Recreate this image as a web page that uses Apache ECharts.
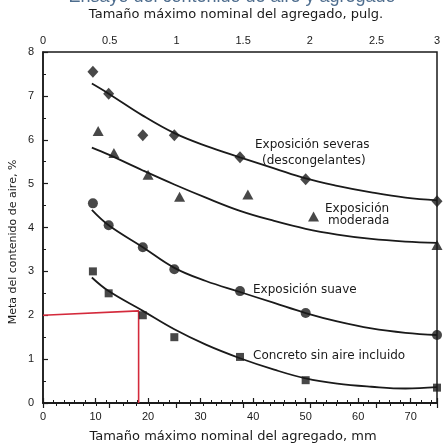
<!DOCTYPE html>
<html>
<head>
<meta charset="utf-8">
<script src="https://cdn.jsdelivr.net/npm/echarts@6/dist/echarts.min.js"></script>
<style>
html,body{margin:0;padding:0;background:#fff;}
#chart{width:446px;height:448px;}
</style>
</head>
<body>
<div id="chart"></div>
<script>
// ---- data ----
var titleText = 'Ensayo del contenido de aire y agregado';
var topAxisName = 'Tamaño máximo nominal del agregado, pulg.';
var bottomAxisName = 'Tamaño máximo nominal del agregado, mm';
var yAxisName = 'Meta del contenido de aire, %';

// marker points (x = mm, y = %)
var severeX = [9.5, 12.5, 19, 25, 37.5, 50, 75];
var severeY = [7.55, 7.05, 6.1, 6.1, 5.6, 5.1, 4.6];
var moderateX = [10.5, 13.5, 20, 26, 39, 51.5, 75];
var moderateY = [6.2, 5.7, 5.2, 4.7, 4.75, 4.25, 3.6];
var mildX = [9.5, 12.5, 19, 25, 37.5, 50, 75];
var mildY = [4.55, 4.05, 3.55, 3.05, 2.55, 2.05, 1.55];
var noAirX = [9.5, 12.5, 19, 25, 37.5, 50, 75];
var noAirY = [3.0, 2.5, 2.0, 1.5, 1.05, 0.52, 0.35];

// fitted curves
var curveX = [9.3, 12.5, 19, 25, 31, 37.5, 44, 50, 56, 62.5, 69, 75];
var severeCurve = [7.28, 7.05, 6.55, 6.15, 5.86, 5.6, 5.35, 5.12, 4.95, 4.8, 4.68, 4.62];
var moderateCurve = [5.82, 5.66, 5.3, 4.98, 4.68, 4.38, 4.15, 3.97, 3.84, 3.74, 3.68, 3.65];
var mildCurve = [4.4, 4.05, 3.55, 3.08, 2.78, 2.53, 2.28, 2.05, 1.86, 1.7, 1.6, 1.55];
var noAirCurve = [2.86, 2.55, 2.1, 1.68, 1.33, 1.02, 0.76, 0.56, 0.44, 0.37, 0.33, 0.36];

// red guide line
var guideX = [0, 18.2, 18.2];
var guideY = [2.0, 2.1, 0];

// annotation texts
var labelSevere1 = 'Exposición severas';
var labelSevere2 = '(descongelantes)';
var labelModerate1 = 'Exposición';
var labelModerate2 = 'moderada';
var labelMild = 'Exposición suave';
var labelNoAir = 'Concreto sin aire incluido';

var xMaxMm = 75;
var mmPerInch = 25.4;

function pairs(xs, ys){ return xs.map(function(x,i){ return [x, ys[i]]; }); }

var chart = echarts.init(document.getElementById('chart'), null, {renderer:'canvas'});
var ink = '#1a1a1a';
var fontFam = "'DejaVu Sans', 'Liberation Sans', Arial, sans-serif";
var tickFam = "'Liberation Sans', Arial, sans-serif";

function curve(data){
  return {type:'line', xAxisIndex:0, yAxisIndex:0, smooth:0.4, showSymbol:false, data:data,
    lineStyle:{color:ink, width:1.8}, itemStyle:{color:ink}, silent:true, z:3};
}
function pts(data, sym, size){
  return {type:'scatter', xAxisIndex:0, yAxisIndex:0, symbol:sym, symbolSize:size, data:data,
    itemStyle:{color:ink}, z:4};
}
function txt(x, y, s, size, extra){
  var st = {text:s, fill:ink, font:size+"px "+fontFam, textVerticalAlign:'middle'};
  if (extra) for (var k in extra) st[k] = extra[k];
  return {type:'text', x:x, y:y, style:st, z:10};
}
var gridBox = {left:43, right:9, top:52, bottom:45};

var option = {
  animation:false,
  backgroundColor:'#ffffff',
  grid:[
    Object.assign({show:true, borderColor:ink, borderWidth:1.5}, gridBox),
    Object.assign({show:false}, gridBox)
  ],
  xAxis:[{
    gridIndex:0, type:'value', position:'bottom', min:0, max:xMaxMm, interval:10,
    axisLine:{show:true, lineStyle:{color:ink, width:1.5}},
    axisTick:{show:true, inside:true, length:5, lineStyle:{color:ink, width:1.2}},
    minorTick:{show:true, splitNumber:5, length:3, lineStyle:{color:ink, width:1}},
    axisLabel:{fontSize:11, color:ink, margin:8, showMaxLabel:false, fontFamily:tickFam},
    splitLine:{show:false}
  },{
    gridIndex:1, type:'value', position:'top', min:0, max:xMaxMm/mmPerInch, interval:0.5,
    axisLine:{show:true, lineStyle:{color:ink, width:1.5}},
    axisTick:{show:true, inside:true, length:5, lineStyle:{color:ink, width:1.2}},
    minorTick:{show:true, splitNumber:5, length:3, lineStyle:{color:ink, width:1}},
    axisLabel:{fontSize:11, color:ink, margin:6, showMaxLabel:true, fontFamily:tickFam,
      formatter:function(v){ return String(Math.round(v*2)/2); }},
    splitLine:{show:false}
  }],
  yAxis:[{
    gridIndex:0, type:'value', min:0, max:8, interval:1,
    axisLine:{show:true, lineStyle:{color:ink, width:1.5}},
    axisTick:{show:true, inside:true, length:5, lineStyle:{color:ink, width:1.2}},
    minorTick:{show:true, splitNumber:2, length:3, lineStyle:{color:ink, width:1}},
    axisLabel:{fontSize:11, color:ink, margin:9, fontFamily:tickFam},
    splitLine:{show:false}
  },{
    gridIndex:1, type:'value', min:0, max:8, show:false
  }],
  series:[
    curve(pairs(curveX, severeCurve)),
    curve(pairs(curveX, moderateCurve)),
    curve(pairs(curveX, mildCurve)),
    curve(pairs(curveX, noAirCurve)),
    {type:'line', xAxisIndex:0, yAxisIndex:0, data:pairs(guideX, guideY), showSymbol:false,
      lineStyle:{color:'#d42a3c', width:1.6}, itemStyle:{color:'#d42a3c'}, silent:true, z:2},
    pts(pairs(severeX, severeY), 'diamond', [11,12]),
    pts(pairs(moderateX, moderateY), 'triangle', [11,10]),
    pts(pairs(mildX, mildY), 'circle', 10),
    pts(pairs(noAirX, noAirY), 'rect', 8)
  ],
  graphic:[
    txt(232, -3, titleText, 18, {fill:'#4e6d8e', textAlign:'center', font:"18px 'Liberation Sans', Arial, sans-serif"}),
    txt(236, 15, topAxisName, 13, {textAlign:'center'}),
    txt(233, 437, bottomAxisName, 13, {textAlign:'center'}),
    {type:'text', x:13, y:242, rotation:Math.PI/2,
      style:{text:yAxisName, fill:ink, font:"11px "+fontFam, textAlign:'center', textVerticalAlign:'middle'}},
    txt(255, 145, labelSevere1, 12),
    txt(262, 161, labelSevere2, 12),
    txt(325, 209, labelModerate1, 12),
    txt(328, 221, labelModerate2, 12),
    txt(253, 290, labelMild, 12),
    txt(253, 356, labelNoAir, 12)
  ]
};
chart.setOption(option);
</script>
</body>
</html>
